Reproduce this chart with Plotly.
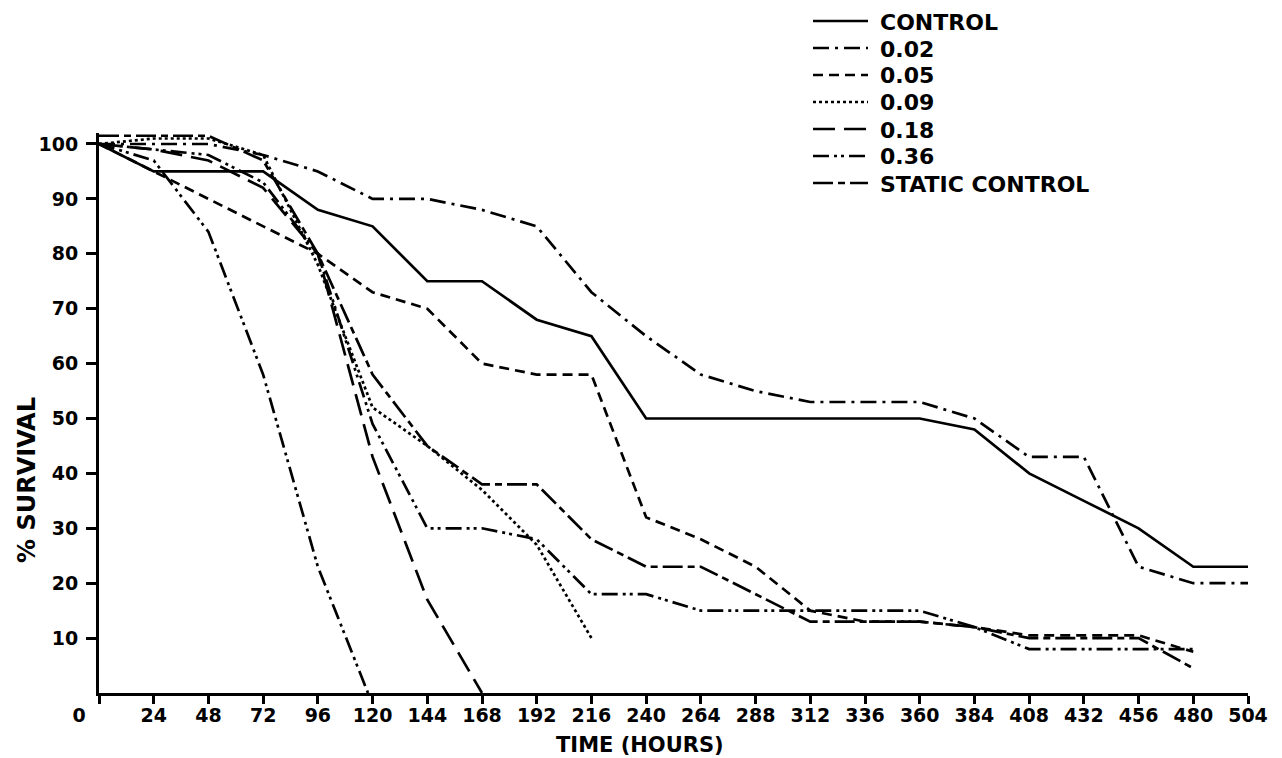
import plotly.graph_objects as go

# Sampling times (hours)
hours = list(range(0, 505, 24))
tick_hours = list(range(0, 505, 24))
tick_text = ["0" + "\u00a0" * 6] + [str(h) for h in tick_hours[1:]]
survival_ticks = [10, 20, 30, 40, 50, 60, 70, 80, 90, 100]
survival_text = ["10", "20", "30", "40", "50", "60", "70", "80", "90", "100"]

# % survival per treatment
control = [100, 95, 95, 95, 88, 85, 75, 75, 68, 65, 50, 50, 50, 50, 50, 50, 48, 40, 35, 30, 23, 23]
conc_002 = [100, 100, 100, 98, 95, 90, 90, 88, 85, 73, 65, 58, 55, 53, 53, 53, 50, 43, 43, 23, 20, 20]
conc_005 = [100, 95, 90, 85, 80, 73, 70, 60, 58, 58, 32, 28, 23, 15, 13, 13, 12, 10.5, 10.5, 10.5, 7.5]
conc_009 = [100, 101, 101, 98, 78, 52, 45, 37, 27, 10]
conc_018 = [100, 99, 97, 92, 80, 43, 17, 0]
hours_036 = [0, 24, 48, 72, 96, 118]
conc_036 = [100, 97, 84, 58, 23, 0]
conc_036b = [100, 99, 98, 93, 80, 49, 30, 30, 28, 18, 18, 15, 15, 15, 15, 15, 12, 8, 8, 8, 8]
static_control = [101.5, 101.5, 101.5, 97, 80, 58, 45, 38, 38, 28, 23, 23, 18, 13, 13, 13, 12, 10, 10, 10, 4.5]

# dash patterns for each treatment
DASH = {
    "CONTROL": "solid",
    "0.02": "16px,6px,3px,6px",
    "0.05": "10px,6px",
    "0.09": "3px,3px",
    "0.18": "22px,9px",
    "0.36": "16px,5px,3px,4px,3px,5px",
    "STATIC CONTROL": "20px,5px,7px,5px",
}

series = [
    ("CONTROL", hours, control),
    ("0.02", hours, conc_002),
    ("0.05", hours[:len(conc_005)], conc_005),
    ("0.09", hours[:len(conc_009)], conc_009),
    ("0.18", hours[:len(conc_018)], conc_018),
    ("0.36", hours_036, conc_036),
    ("STATIC CONTROL", hours[:len(static_control)], static_control),
]
extra_series = [("0.36", hours[:len(conc_036b)], conc_036b)]

FONT = "DejaVu Sans"
fig = go.Figure()
for name, x, y in series + extra_series:
    fig.add_trace(go.Scatter(
        x=x, y=y, mode="lines", name=name, showlegend=False,
        line=dict(color="black", width=2.7, dash=DASH[name]),
        hoverinfo="skip",
    ))

# plot area geometry in pixels
L, R, T, B = 99, 34, 133, 65
W, H = 1282, 758
pw, ph = W - L - R, H - T - B


def px_x(px):
    return (px - L) / pw


def px_y(py):
    return (H - B - py) / ph


# key drawn above the plot, upper right
shapes = []
annotations = []
for i, (name, _, _) in enumerate(series):
    yc = 21 + 27 * i
    shapes.append(dict(
        type="line", xref="paper", yref="paper",
        x0=px_x(813), x1=px_x(868), y0=px_y(yc), y1=px_y(yc),
        line=dict(color="black", width=2.7, dash=DASH[name]),
    ))
    annotations.append(dict(
        text=name, xref="paper", yref="paper", x=px_x(878), y=px_y(yc + 1),
        xanchor="left", yanchor="middle", showarrow=False,
        font=dict(family=FONT, size=22, color="black", weight="bold"),
    ))

annotations.append(dict(
    text="TIME (HOURS)", xref="paper", yref="paper", x=px_x(640), y=px_y(745),
    xanchor="center", yanchor="middle", showarrow=False,
    font=dict(family=FONT, size=21, color="black", weight="bold"),
))
annotations.append(dict(
    text="% SURVIVAL", xref="paper", yref="paper", x=px_x(27), y=px_y(480),
    xanchor="center", yanchor="middle", textangle=-90, showarrow=False,
    font=dict(family=FONT, size=24, color="black", weight="bold"),
))

tick_font = dict(family=FONT, size=19, color="black", weight="bold")
fig.update_layout(
    width=W, height=H, autosize=False,
    margin=dict(l=L, r=R, t=T, b=B, pad=0),
    paper_bgcolor="white", plot_bgcolor="white",
    showlegend=False,
    shapes=shapes, annotations=annotations,
    xaxis=dict(
        range=[0, 504], tickvals=tick_hours, ticktext=tick_text,
        showgrid=False, zeroline=False, showline=True, linecolor="black", linewidth=3,
        ticks="outside", ticklen=8, tickwidth=3, tickcolor="black",
        tickfont=tick_font, ticklabelstandoff=-5,
    ),
    yaxis=dict(
        range=[0, 102], tickvals=survival_ticks, ticktext=survival_text,
        showgrid=False, zeroline=False, showline=True, linecolor="black", linewidth=3,
        ticks="outside", ticklen=10, tickwidth=3, tickcolor="black",
        tickfont=tick_font, ticklabelstandoff=4,
    ),
)

fig.write_html("out.html")
